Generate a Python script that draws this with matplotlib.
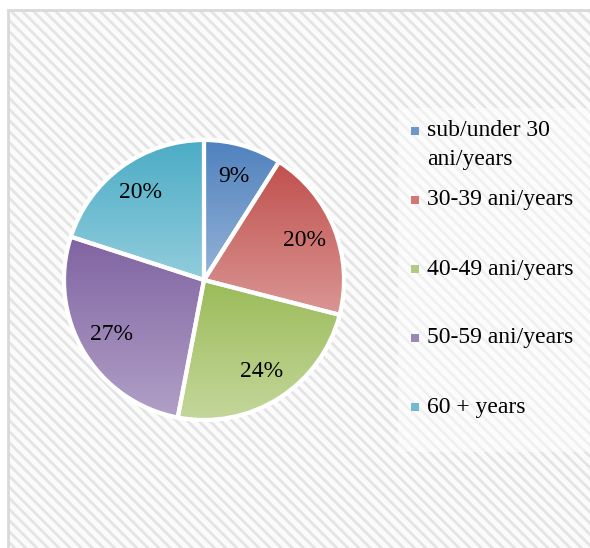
import numpy as np
import matplotlib
matplotlib.use('Agg')
import matplotlib.pyplot as plt
from matplotlib.patches import Rectangle, Wedge
from matplotlib.colors import to_rgb

labels = ['sub/under 30\nani/years', '30-39 ani/years', '40-49 ani/years',
          '50-59 ani/years', '60 + years']
shares = [9, 20, 24, 27, 20]
top_colors = ['#4F81BD', '#C0504D', '#9BBB59', '#8064A2', '#4BACC6']
bottom_colors = ['#95B3D7', '#DA9694', '#C4D79B', '#B1A0C7', '#92CDDC']
legend_colors = ['#7096C8', '#D27874', '#B3CB80', '#9A86B8', '#6FBCD2']

W, H = 590, 548
plt.rcParams['hatch.linewidth'] = 2.0
fig = plt.figure(figsize=(W / 100, H / 100), dpi=100)
fig.patch.set_facecolor('white')

def fx(px):
    return px / W

def fy(py):
    return 1 - py / H

# hatched background panel
bg = Rectangle((fx(8), 0), 1.2, fy(10), transform=fig.transFigure,
               facecolor='#FBFBFB', edgecolor='#E4E4E4', linewidth=0,
               hatch='\\\\\\', zorder=0)
fig.patches.append(bg)
frame = Rectangle((fx(8), -0.1), 1.2, fy(10) + 0.1, transform=fig.transFigure,
                  facecolor='none', edgecolor='#D9D9D9', linewidth=2, zorder=1)
fig.patches.append(frame)

# lighter legend area
leg_bg = Rectangle((fx(398), fy(452)), 1.0, fy(108) - fy(452),
                   transform=fig.transFigure, facecolor='white', alpha=0.45,
                   edgecolor='none', zorder=1)
fig.patches.append(leg_bg)

# pie axes: centre at (204, 280) px, radius 140 px
half = 150
ax = fig.add_axes([fx(204 - half), fy(280 + half), 2 * half / W, 2 * half / H])
ax.set_zorder(3)
lim = half / 140

wedges, texts, autotexts = ax.pie(
    shares, startangle=90, counterclock=False, radius=1,
    colors=top_colors, autopct='%1.0f%%', pctdistance=0.77,
    wedgeprops=dict(edgecolor='white', linewidth=3),
    textprops=dict(family='Liberation Serif', fontsize=17, color='black'))

for w, c0, c1 in zip(wedges, top_colors, bottom_colors):
    ext = w.get_path().get_extents()
    t = np.linspace(0, 1, 256)[:, None]
    grad = (1 - t) * np.array(to_rgb(c0)) + t * np.array(to_rgb(c1))
    grad = grad[:, None, :]
    im = ax.imshow(grad, extent=[ext.x0, ext.x1, ext.y0, ext.y1],
                   origin='upper', aspect='auto', zorder=2,
                   interpolation='bilinear')
    im.set_clip_path(w)
    outline = Wedge(w.center, w.r, w.theta1, w.theta2, facecolor='none',
                    edgecolor='white', linewidth=3, zorder=3)
    ax.add_patch(outline)

for t in autotexts:
    t.set_zorder(4)
ax.set_xlim(-lim, lim)
ax.set_ylim(-lim, lim)
ax.set_aspect('equal')
ax.axis('off')

# legend entries
entry_y0 = 131
entry_step = 69
for i, (lab, col) in enumerate(zip(labels, legend_colors)):
    y = entry_y0 + i * entry_step
    sq = Rectangle((fx(411), fy(y + 4)), 8 / W, 8 / H,
                   transform=fig.transFigure, facecolor=col,
                   edgecolor='none', zorder=5)
    fig.patches.append(sq)
    for j, line in enumerate(lab.split('\n')):
        fig.text(fx(427), fy(y + j * 29), line, family='Liberation Serif',
                 fontsize=17, va='center', ha='left', color='black', zorder=6)

fig.savefig('out.png', dpi=100)
